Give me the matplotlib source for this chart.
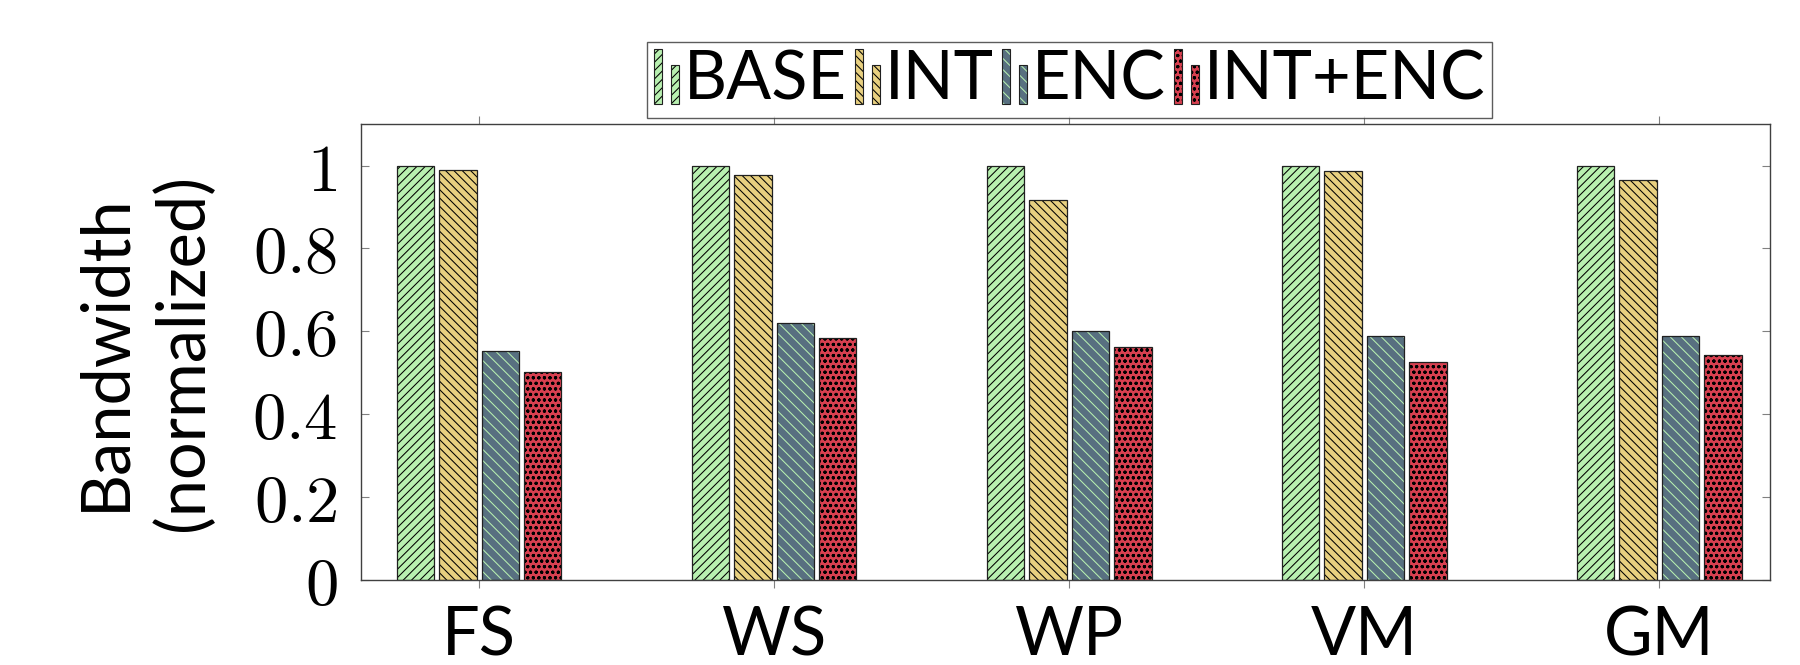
import matplotlib
matplotlib.use('Agg')
import matplotlib.pyplot as plt
import numpy as np
from matplotlib.patches import Rectangle
from matplotlib.legend_handler import HandlerBase

# data
categories = ['FS', 'WS', 'WP', 'VM', 'GM']
series = ['BASE', 'INT', 'ENC', 'INT+ENC']
base = [1.0, 1.0, 1.0, 1.0, 1.0]
integ = [0.988, 0.978, 0.916, 0.986, 0.966]
enc = [0.553, 0.621, 0.600, 0.588, 0.590]
int_enc = [0.502, 0.584, 0.563, 0.526, 0.542]
yticks = [0, 0.2, 0.4, 0.6, 0.8, 1]

# styles: fill, hatch, hatch colour
fills = ['#b8f0b0', '#e8d080', '#587080', '#d84050']
hatches = ['////', '\\\\\\\\', '\\\\\\', 'ooo...']
hatch_colors = ['black', 'black', '#b8f0b0', 'black']

plt.rcParams['font.family'] = ['Lato', 'DejaVu Sans']
plt.rcParams['mathtext.fontset'] = 'cm'
plt.rcParams['hatch.linewidth'] = 0.75

fig = plt.figure(figsize=(18, 6.65), dpi=100)
ax = fig.add_axes([0.2006, 0.1274, 0.7827, 0.6861])

x = np.arange(len(categories))
pitch = 0.1437
width = 0.127
values = [base, integ, enc, int_enc]
for i, vals in enumerate(values):
    off = (i - 1.5) * pitch
    ax.bar(x + off, vals, width, color=fills[i], edgecolor=hatch_colors[i],
           hatch=hatches[i], linewidth=0, zorder=2)
    ax.bar(x + off, vals, width, fill=False, edgecolor='#202020',
           linewidth=0.9, zorder=3)

ax.set_xlim(-0.4, 4.375)
ax.set_ylim(0, 1.1)
ax.set_xticks(x)
ax.set_xticklabels(categories)
ax.set_yticks(yticks)
ax.set_yticklabels([f'${t:g}$' for t in yticks])

ax.tick_params(axis='y', direction='in', length=6, width=0.8, color='0.5',
               left=True, right=True, labelsize=48, pad=17)
ax.tick_params(axis='x', direction='out', length=6, width=0.8, color='0.5',
               top=True, bottom=True, labelsize=48, pad=12)
for s in ax.spines.values():
    s.set_color('0.25')
    s.set_linewidth(1.0)

ax.set_ylabel('Bandwidth\n(normalized)', fontsize=48, linespacing=1.3)
ax.yaxis.set_label_coords(-0.104, 0.5)


class TwoBarHandler(HandlerBase):
    def create_artists(self, legend, orig_handle, xdescent, ydescent,
                       width, height, fontsize, trans):
        fc, h, hc = orig_handle.fc, orig_handle.h, orig_handle.hc
        w = width * 8 / 25.0
        arts = []
        for k, frac in enumerate([1.0, 0.7]):
            x0 = -xdescent + k * width * 17 / 25.0
            y0 = -ydescent
            r1 = Rectangle((x0, y0), w, height * frac, facecolor=fc,
                           edgecolor=hc, hatch=h, linewidth=0, transform=trans)
            r2 = Rectangle((x0, y0), w, height * frac, fill=False,
                           edgecolor='#202020', linewidth=0.8, transform=trans)
            arts += [r1, r2]
        return arts


class Proxy:
    def __init__(self, fc, h, hc):
        self.fc, self.h, self.hc = fc, h, hc


proxies = [Proxy(fills[i], hatches[i], hatch_colors[i]) for i in range(4)]
leg = ax.legend(proxies, series, handler_map={Proxy: TwoBarHandler()},
                loc='lower center', bbox_to_anchor=(0.503, 1.013), ncol=4,
                fontsize=48, handlelength=0.375, handleheight=0.9,
                handletextpad=0.075, columnspacing=0.12, borderpad=0.1,
                borderaxespad=0, fancybox=False, frameon=True)
leg.get_frame().set_edgecolor('0.2')
leg.get_frame().set_linewidth(1.0)

fig.savefig('out.png', dpi=100)
